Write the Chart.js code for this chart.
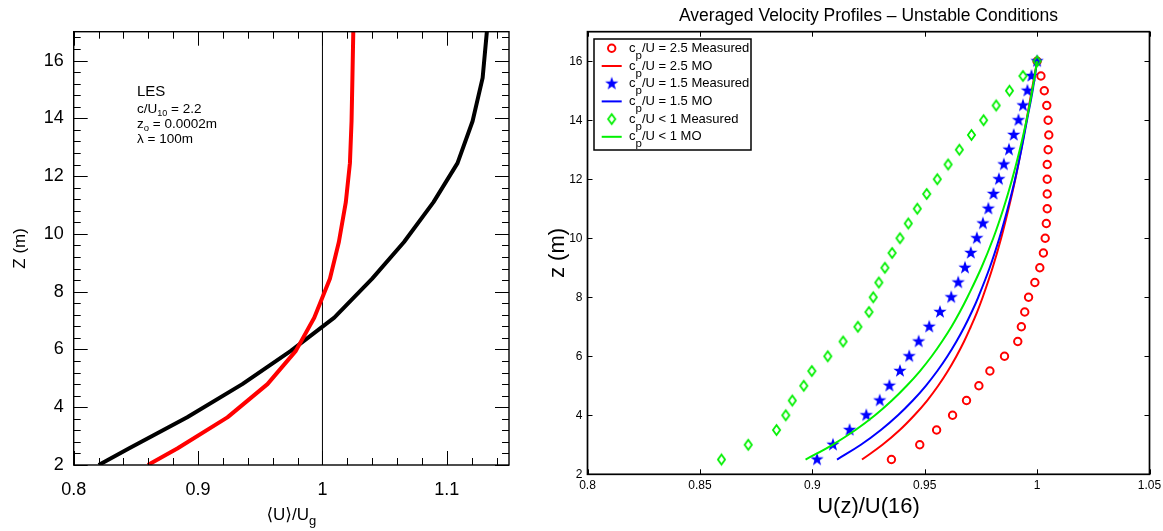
<!DOCTYPE html>
<html>
<head>
<meta charset="utf-8">
<script src="https://cdn.jsdelivr.net/npm/chart.js@4.4.1/dist/chart.umd.min.js"></script>
<style>
  html, body { margin: 0; padding: 0; background: #fff; }
  #wrap { position: relative; width: 1163px; height: 531px; overflow: hidden; background: #fff; }
  #lesChart { position: absolute; left: 0; top: 0; }
  #obsChart { position: absolute; left: 540px; top: 0; }
</style>
</head>
<body>
<div id="wrap">
  <canvas id="lesChart" width="540" height="531"></canvas>
  <canvas id="obsChart" width="623" height="531"></canvas>
</div>
<script>
// ---------- left panel: LES mean velocity profiles ----------
const lesZ     = [2.0, 2.57, 3.65, 4.8, 5.95, 7.1, 8.45, 9.72, 11.1, 12.45, 13.9, 15.4, 17.0];
const lesBlack = [0.8201, 0.8443, 0.8913, 0.9356, 0.9746, 1.0095, 1.0400, 1.0656, 1.0893, 1.1086, 1.1207, 1.1288, 1.1322];
const lesRed   = [0.8596, 0.8833, 0.9236, 0.9558, 0.9786, 0.9934, 1.0060, 1.0132, 1.0188, 1.0221, 1.0234, 1.0241, 1.0248];
const refLineU = [1.0, 1.0];
const refLineZ = [2, 17];

const lesXTicks = [0.8, 0.9, 1.0, 1.1];
const lesYTicks = [2, 4, 6, 8, 10, 12, 14, 16];

// ---------- right panel: measured vs Monin-Obukhov profiles ----------
const measuredZ = [2.5, 3, 3.5, 4, 4.5, 5, 5.5, 6, 6.5, 7, 7.5, 8, 8.5, 9, 9.5, 10,
                   10.5, 11, 11.5, 12, 12.5, 13, 13.5, 14, 14.5, 15, 15.5, 16];
const cp25Measured = [0.9352, 0.9478, 0.9553, 0.9624, 0.9686, 0.9741, 0.9790, 0.9855, 0.9914, 0.9930,
                      0.9945, 0.9962, 0.9990, 1.0012, 1.0028, 1.0036, 1.0041, 1.0045, 1.0045, 1.0045,
                      1.0045, 1.0049, 1.0052, 1.0049, 1.0043, 1.0032, 1.0017, 1.0000];
const cp15Measured = [0.9021, 0.9092, 0.9166, 0.9240, 0.9300, 0.9343, 0.9390, 0.9431, 0.9473, 0.9520,
                      0.9568, 0.9618, 0.9649, 0.9679, 0.9705, 0.9732, 0.9759, 0.9783, 0.9806, 0.9830,
                      0.9852, 0.9875, 0.9896, 0.9917, 0.9937, 0.9957, 0.9975, 1.0000];
const cpLt1Measured = [0.8596, 0.8715, 0.8841, 0.8882, 0.8911, 0.8962, 0.8998, 0.9069, 0.9137, 0.9203,
                       0.9252, 0.9271, 0.9296, 0.9323, 0.9355, 0.9390, 0.9427, 0.9467, 0.9509, 0.9556,
                       0.9604, 0.9654, 0.9708, 0.9762, 0.9818, 0.9877, 0.9937, 1.0000];

const moZ = [2.5, 3, 3.5, 4, 4.5, 5, 5.5, 6, 6.5, 7, 7.5, 8, 9, 10, 11, 12, 13, 14, 15, 16];
const cp25MO  = [0.9221, 0.9312, 0.9389, 0.9454, 0.9511, 0.9560, 0.9603, 0.9641, 0.9675, 0.9705,
                 0.9733, 0.9758, 0.9802, 0.9840, 0.9873, 0.9903, 0.9929, 0.9953, 0.9976, 1.0000];
const cp15MO  = [0.9110, 0.9216, 0.9305, 0.9381, 0.9447, 0.9505, 0.9556, 0.9601, 0.9641, 0.9677,
                 0.9709, 0.9738, 0.9789, 0.9832, 0.9869, 0.9902, 0.9930, 0.9955, 0.9980, 1.0000];
const cpLt1MO = [0.8970, 0.9090, 0.9192, 0.9279, 0.9354, 0.9420, 0.9479, 0.9531, 0.9577, 0.9619,
                 0.9656, 0.9690, 0.9752, 0.9805, 0.9850, 0.9889, 0.9923, 0.9953, 0.9978, 1.0000];

const seriesLabels = [
  'c_{p}/U = 2.5 Measured',
  'c_{p}/U = 2.5 MO',
  'c_{p}/U = 1.5 Measured',
  'c_{p}/U = 1.5 MO',
  'c_{p}/U < 1 Measured',
  'c_{p}/U < 1 MO'
];

const obsXTicks = [0.8, 0.85, 0.9, 0.95, 1.0, 1.05];
const obsYTicks = [2, 4, 6, 8, 10, 12, 14, 16];

// ---------- shared helpers ----------
const FONT = "'Liberation Sans', Arial, Helvetica, 'DejaVu Sans', sans-serif";
const RED = '#ff0000', BLUE = '#0000ff', GREEN = '#00f000';

const toPoints = (xs, zs) => xs.map((v, i) => ({ x: v, y: zs[i] }));
const fmtTick = v => String(+Number(v).toFixed(2));

// text with _{...} subscripts
function parseRich(str) {
  const out = [];
  const re = /_\{([^}]*)\}/g;
  let last = 0, m;
  while ((m = re.exec(str)) !== null) {
    if (m.index > last) out.push({ t: str.slice(last, m.index), sub: false });
    out.push({ t: m[1], sub: true });
    last = re.lastIndex;
  }
  if (last < str.length) out.push({ t: str.slice(last), sub: false });
  return out;
}
function richWidth(ctx, parts, size, subSize) {
  let w = 0;
  for (const p of parts) {
    ctx.font = `${p.sub ? subSize : size}px ${FONT}`;
    w += ctx.measureText(p.t).width;
  }
  return w;
}
function drawRich(ctx, str, x, y, size, subSize, subDy, align) {
  const parts = parseRich(str);
  let cx = x;
  if (align === 'center') cx = x - richWidth(ctx, parts, size, subSize) / 2;
  ctx.textAlign = 'left';
  ctx.textBaseline = 'alphabetic';
  for (const p of parts) {
    ctx.font = `${p.sub ? subSize : size}px ${FONT}`;
    ctx.fillText(p.t, cx, y + (p.sub ? subDy : 0));
    cx += ctx.measureText(p.t).width;
  }
}

// filled five-point star marker
function makeStar(color, r) {
  const s = Math.ceil(r * 2 + 2);
  const c = document.createElement('canvas');
  c.width = s; c.height = s;
  const g = c.getContext('2d');
  const cx = s / 2, cy = s / 2, ri = r * 0.4;
  g.beginPath();
  for (let i = 0; i < 10; i++) {
    const a = -Math.PI / 2 + i * Math.PI / 5;
    const rr = i % 2 ? ri : r;
    g.lineTo(cx + rr * Math.cos(a), cy + rr * Math.sin(a));
  }
  g.closePath();
  g.fillStyle = color;
  g.fill();
  return c;
}
// open diamond marker (taller than wide)
function makeDiamond(color, hw, hh, lw) {
  const w = Math.ceil(hw * 2 + lw * 2 + 2), h = Math.ceil(hh * 2 + lw * 2 + 2);
  const c = document.createElement('canvas');
  c.width = w; c.height = h;
  const g = c.getContext('2d');
  const cx = w / 2, cy = h / 2;
  g.beginPath();
  g.moveTo(cx, cy - hh);
  g.lineTo(cx + hw, cy);
  g.lineTo(cx, cy + hh);
  g.lineTo(cx - hw, cy);
  g.closePath();
  g.lineWidth = lw;
  g.strokeStyle = color;
  g.stroke();
  return c;
}

const starImg = makeStar(BLUE, 7);
const diamondImg = makeDiamond(GREEN, 3.6, 5, 1.8);

function axis(min, max, tickVals, size, padding, fitProp, fitVal) {
  return {
    type: 'linear',
    min, max,
    grid: { display: false, drawTicks: false },
    border: { display: false },
    afterBuildTicks: s => { s.ticks = tickVals.map(v => ({ value: v })); },
    afterFit: s => { s[fitProp] = fitVal; s.paddingLeft = 0; s.paddingRight = 0; s.paddingTop = 0; s.paddingBottom = 0; },
    ticks: {
      autoSkip: false, maxRotation: 0, minRotation: 0,
      color: '#000', padding,
      font: { family: FONT, size },
      callback: v => fmtTick(v)
    }
  };
}

// frame box and inward tick marks
function frameTicks(cfg) {
  return {
    id: 'frameTicks',
    afterDatasetsDraw(chart) {
      const { ctx, chartArea: a, scales: { x, y } } = chart;
      ctx.save();
      ctx.strokeStyle = '#000';
      ctx.lineWidth = 1;
      const xt = (vals, len) => vals.forEach(v => {
        const p = Math.round(x.getPixelForValue(v)) + 0.5;
        ctx.beginPath();
        ctx.moveTo(p, a.bottom); ctx.lineTo(p, a.bottom - len);
        ctx.moveTo(p, a.top); ctx.lineTo(p, a.top + len);
        ctx.stroke();
      });
      const yt = (vals, len) => vals.forEach(v => {
        const p = Math.round(y.getPixelForValue(v)) + 0.5;
        ctx.beginPath();
        ctx.moveTo(a.left, p); ctx.lineTo(a.left + len, p);
        ctx.moveTo(a.right, p); ctx.lineTo(a.right - len, p);
        ctx.stroke();
      });
      xt(cfg.xMajor, cfg.majorLen);
      yt(cfg.yMajor, cfg.majorLen);
      if (cfg.xMinor) xt(cfg.xMinor, cfg.minorLen);
      if (cfg.yMinor) yt(cfg.yMinor, cfg.minorLen);
      ctx.lineWidth = cfg.frameWidth;
      ctx.strokeRect(a.left, a.top, a.right - a.left, a.bottom - a.top);
      ctx.restore();
    }
  };
}

function steps(from, to, step) {
  const out = [];
  for (let v = from; v <= to + 1e-9; v += step) out.push(+v.toFixed(4));
  return out;
}

// ---------- left chart ----------
const lesMinorX = steps(0.82, 1.14, 0.02).filter(v => Math.abs(v * 10 - Math.round(v * 10)) > 1e-6);
const lesMinorY = steps(2.4, 16.8, 0.4).filter(v => Math.abs(v / 2 - Math.round(v / 2)) > 1e-6);

const lesText = {
  id: 'lesText',
  afterDraw(chart) {
    const { ctx, chartArea: a } = chart;
    ctx.save();
    ctx.fillStyle = '#000';
    ctx.font = `15px ${FONT}`;
    ctx.textBaseline = 'alphabetic';
    ctx.textAlign = 'left';
    ctx.fillText('LES', 137, 96);
    drawRich(ctx, 'c/U_{10} = 2.2', 137, 112.5, 13.5, 9, 3, 'left');
    drawRich(ctx, 'z_{o} = 0.0002m', 137, 128.3, 13.5, 9.5, 3, 'left');
    drawRich(ctx, 'λ = 100m', 137, 143.3, 13.5, 9, 3, 'left');

    // axis titles
    drawRich(ctx, '⟨U⟩/U_{g}', (a.left + a.right) / 2, 520, 17, 13, 5, 'center');
    ctx.translate(20, (a.top + a.bottom) / 2);
    ctx.rotate(-Math.PI / 2);
    ctx.font = `17px ${FONT}`;
    ctx.textAlign = 'center';
    ctx.textBaseline = 'middle';
    ctx.fillText('Z (m)', 0, 0);
    ctx.restore();
  }
};

new Chart(document.getElementById('lesChart'), {
  type: 'scatter',
  data: {
    datasets: [
      { data: toPoints(lesRed, lesZ), showLine: true, borderColor: RED, borderWidth: 4,
        pointRadius: 0, borderJoinStyle: 'round', order: 0 },
      { data: toPoints(lesBlack, lesZ), showLine: true, borderColor: '#000', borderWidth: 4,
        pointRadius: 0, borderJoinStyle: 'round', order: 1 },
      { data: toPoints(refLineU, refLineZ), showLine: true, borderColor: '#000', borderWidth: 1,
        pointRadius: 0, order: 2 }
    ]
  },
  options: {
    responsive: false, animation: false, devicePixelRatio: 1, events: [],
    layout: { padding: { left: 0, right: 31, top: 31.7, bottom: 0 } },
    plugins: { legend: { display: false }, tooltip: { enabled: false } },
    scales: {
      x: axis(0.8, 1.15, lesXTicks, 18, 14, 'height', 66),
      y: axis(2, 17, lesYTicks, 18, 10, 'width', 73.7)
    }
  },
  plugins: [frameTicks({ xMajor: lesXTicks, yMajor: lesYTicks, xMinor: lesMinorX, yMinor: lesMinorY,
                         majorLen: 14, minorLen: 7, frameWidth: 1.4 }), lesText]
});

// ---------- right chart ----------
const obsText = {
  id: 'obsText',
  afterDraw(chart) {
    const { ctx, chartArea: a } = chart;
    const cx = (a.left + a.right) / 2;
    ctx.save();
    ctx.fillStyle = '#000';
    ctx.textAlign = 'center';
    ctx.textBaseline = 'middle';
    ctx.font = `17.5px ${FONT}`;
    ctx.fillText('Averaged Velocity Profiles \u2013 Unstable Conditions', cx, 16);
    ctx.font = `22px ${FONT}`;
    ctx.fillText('U(z)/U(16)', cx, 507);
    ctx.translate(18, (a.top + a.bottom) / 2);
    ctx.rotate(-Math.PI / 2);
    ctx.fillText('z (m)', 0, 0);
    ctx.restore();

    // legend box
    const bx = a.left + 6.5, by = a.top + 7.3, bw = 157, bh = 111;
    ctx.save();
    ctx.fillStyle = '#fff';
    ctx.fillRect(bx, by, bw, bh);
    ctx.lineWidth = 1.5;
    ctx.strokeStyle = '#000';
    ctx.strokeRect(bx, by, bw, bh);
    const rowH = 17.7;
    chart.data.datasets.forEach((ds, i) => {
      const ry = by + 9.3 + i * rowH;
      const sx = bx + 17.7;
      if (ds.showLine) {
        ctx.strokeStyle = ds.borderColor;
        ctx.lineWidth = 2;
        ctx.beginPath();
        ctx.moveTo(sx - 10, ry); ctx.lineTo(sx + 10, ry);
        ctx.stroke();
      } else if (ds.pointStyle === 'circle') {
        ctx.strokeStyle = ds.borderColor;
        ctx.lineWidth = ds.borderWidth;
        ctx.beginPath();
        ctx.arc(sx, ry, ds.pointRadius, 0, Math.PI * 2);
        ctx.stroke();
      } else {
        const img = ds.pointStyle;
        ctx.drawImage(img, sx - img.width / 2, ry - img.height / 2);
      }
      ctx.fillStyle = '#000';
      drawRich(ctx, ds.label, bx + 35, ry + 3.5, 13, 11.5, 7, 'left');
    });
    ctx.restore();
  }
};

new Chart(document.getElementById('obsChart'), {
  type: 'scatter',
  data: {
    datasets: [
      { label: seriesLabels[0], data: toPoints(cp25Measured, measuredZ), showLine: false,
        pointStyle: 'circle', pointRadius: 3.7, borderWidth: 2, borderColor: RED,
        backgroundColor: 'rgba(0,0,0,0)', order: 5 },
      { label: seriesLabels[1], data: toPoints(cp25MO, moZ), showLine: true, borderColor: RED,
        borderWidth: 2, pointRadius: 0, tension: 0.4, order: 4 },
      { label: seriesLabels[2], data: toPoints(cp15Measured, measuredZ), showLine: false,
        pointStyle: starImg, pointRadius: 7, borderColor: BLUE, backgroundColor: BLUE, order: 3 },
      { label: seriesLabels[3], data: toPoints(cp15MO, moZ), showLine: true, borderColor: BLUE,
        borderWidth: 2, pointRadius: 0, tension: 0.4, order: 2 },
      { label: seriesLabels[4], data: toPoints(cpLt1Measured, measuredZ), showLine: false,
        pointStyle: diamondImg, pointRadius: 6, borderColor: GREEN, backgroundColor: GREEN, order: 1 },
      { label: seriesLabels[5], data: toPoints(cpLt1MO, moZ), showLine: true, borderColor: GREEN,
        borderWidth: 2, pointRadius: 0, tension: 0.4, order: 0 }
    ]
  },
  options: {
    responsive: false, animation: false, devicePixelRatio: 1, events: [],
    layout: { padding: { left: 0, right: 13.5, top: 31.7, bottom: 0 } },
    plugins: { legend: { display: false }, tooltip: { enabled: false } },
    scales: {
      x: axis(0.8, 1.05, obsXTicks, 12, 4.5, 'height', 56.7),
      y: axis(2, 17, obsYTicks, 12, 5, 'width', 47.5)
    }
  },
  plugins: [frameTicks({ xMajor: obsXTicks, yMajor: obsYTicks, majorLen: 5, minorLen: 0, frameWidth: 1.7 }), obsText]
});
</script>
</body>
</html>
